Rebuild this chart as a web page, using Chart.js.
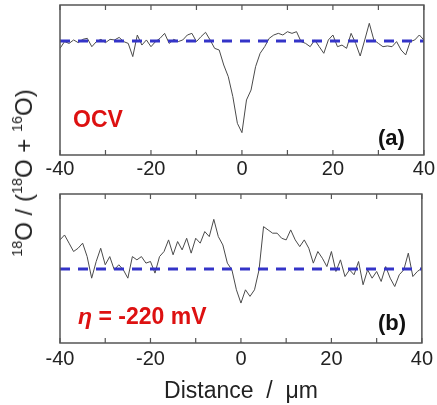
<!DOCTYPE html>
<html>
<head>
<meta charset="utf-8">
<script src="https://cdn.jsdelivr.net/npm/chart.js@4"></script>
<style>
  body { margin: 0; background: #fff; }
  #wrap { position: relative; width: 437px; height: 405px; font-family: 'Liberation Sans', Arial, sans-serif; }
  #wrap canvas { position: absolute; left: 0; }
  .lbl { position: absolute; white-space: nowrap; line-height: 1; }
  .red { color: #dd1111; font-weight: bold; font-size: 23px; }
  .tag { color: #111; font-weight: bold; font-size: 22px; }
  #ytitle { position: absolute; left: 24px; top: 173px; transform: translate(-50%, -50%) rotate(-90deg);
            font-size: 24px; color: #222; white-space: nowrap; }
  #ytitle sup { font-size: 0.6em; vertical-align: 0.7em; line-height: 0; }
</style>
</head>
<body>
<div id="wrap">
  <canvas id="chartA" width="437" height="185" style="top:0"></canvas>
  <canvas id="chartB" width="437" height="220" style="top:185px"></canvas>
  <div id="ytitle"><sup>18</sup>O / (<sup>18</sup>O + <sup>16</sup>O)</div>
  <div class="lbl red" style="left:73px; top:108px;">OCV</div>
  <div class="lbl tag" style="left:378px; top:127px;">(a)</div>
  <div class="lbl red" style="left:78px; top:305px;"><i>η</i> = -220 mV</div>
  <div class="lbl tag" style="left:378px; top:312px;">(b)</div>
</div>
<script>
// distance axis, 1 um steps from -40 to 40
const distance = [];
for (let d = -40; d <= 40; d++) distance.push(d);

// (a) OCV profile, arbitrary units
const ocvProfile = [
  0.711, 0.756, 0.744, 0.767, 0.749, 0.771, 0.778, 0.722, 0.756, 0.771,
  0.749, 0.771, 0.767, 0.784, 0.756, 0.744, 0.656, 0.800, 0.733, 0.767,
  0.722, 0.756, 0.778, 0.811, 0.744, 0.771, 0.756, 0.767, 0.800, 0.811,
  0.756, 0.789, 0.818, 0.767, 0.711, 0.700, 0.600, 0.522, 0.389, 0.211,
  0.149, 0.367, 0.433, 0.589, 0.678, 0.722, 0.778, 0.800, 0.811, 0.800,
  0.822, 0.811, 0.822, 0.756, 0.744, 0.722, 0.767, 0.722, 0.678, 0.767,
  0.800, 0.722, 0.733, 0.711, 0.811, 0.744, 0.660, 0.767, 0.878, 0.767,
  0.744, 0.722, 0.727, 0.722, 0.756, 0.700, 0.667, 0.756, 0.767, 0.800,
  0.767
];
const ocvBaseline = 0.76;

// (b) eta = -220 mV profile, arbitrary units
const biasProfile = [
  0.692, 0.725, 0.670, 0.614, 0.636, 0.670, 0.580, 0.435, 0.547, 0.636,
  0.525, 0.580, 0.491, 0.525, 0.491, 0.435, 0.580, 0.558, 0.580, 0.536,
  0.547, 0.469, 0.580, 0.614, 0.692, 0.592, 0.681, 0.625, 0.703, 0.603,
  0.703, 0.670, 0.748, 0.714, 0.830, 0.714, 0.658, 0.536, 0.491, 0.357,
  0.268, 0.357, 0.313, 0.357, 0.491, 0.781, 0.759, 0.737, 0.737, 0.703,
  0.692, 0.759, 0.692, 0.647, 0.692, 0.636, 0.536, 0.614, 0.569, 0.513,
  0.614, 0.480, 0.558, 0.446, 0.491, 0.458, 0.547, 0.391, 0.491, 0.435,
  0.480, 0.413, 0.513, 0.435, 0.379, 0.458, 0.491, 0.603, 0.446, 0.480,
  0.502
];
const biasBaseline = 0.496;

const xMin = -40, xMax = 40;
const fontFamily = "'Liberation Sans', Arial, sans-serif";

// box frame with inward ticks on top and bottom
const framePlugin = {
  id: 'frame',
  afterDraw(chart) {
    const { ctx, chartArea: a } = chart;
    const xs = chart.scales.x;
    ctx.save();
    ctx.strokeStyle = '#555';
    ctx.lineWidth = 1.5;
    ctx.strokeRect(a.left, a.top, a.right - a.left, a.bottom - a.top);
    ctx.lineWidth = 1.2;
    xs.ticks.forEach(t => {
      const px = xs.getPixelForValue(t.value);
      ctx.beginPath();
      ctx.moveTo(px, a.bottom); ctx.lineTo(px, a.bottom - 5);
      ctx.moveTo(px, a.top); ctx.lineTo(px, a.top + 5);
      ctx.stroke();
    });
    ctx.restore();
  }
};

function makePanel(id, values, baseline, opts) {
  const trace = distance.map((d, i) => ({ x: d, y: values[i] }));
  const xScale = {
    type: 'linear',
    min: xMin, max: xMax,
    grid: { display: false, drawTicks: false },
    border: { display: false },
    ticks: {
      stepSize: 10,
      autoSkip: false,
      maxRotation: 0,
      padding: opts.tickPad,
      color: '#222',
      font: { family: fontFamily, size: 20 },
      callback: v => (v % 20 === 0 ? String(v) : '')
    },
    afterFit: s => { s.height = opts.axisHeight; }
  };
  if (opts.title) {
    xScale.title = {
      display: true,
      text: opts.title,
      color: '#222',
      padding: { top: 0, bottom: 0 },
      font: { family: fontFamily, size: 23 }
    };
  }
  return new Chart(document.getElementById(id), {
    type: 'line',
    data: {
      datasets: [
        {
          data: [{ x: xMin, y: baseline }, { x: xMax, y: baseline }],
          borderColor: '#3434c8',
          borderWidth: 3,
          borderDash: [10, 8],
          pointRadius: 0,
          order: 0
        },
        {
          data: trace,
          borderColor: '#4a4a4a',
          borderWidth: 1,
          pointRadius: 0,
          tension: 0,
          order: 1
        }
      ]
    },
    options: {
      responsive: false,
      animation: false,
      layout: { padding: opts.padding },
      plugins: { legend: { display: false }, tooltip: { enabled: false } },
      scales: {
        x: xScale,
        y: { display: false, min: 0, max: 1 }
      }
    },
    plugins: [framePlugin]
  });
}

makePanel('chartA', ocvProfile, ocvBaseline, {
  padding: { left: 60, right: 10, top: 5, bottom: 0 },
  axisHeight: 30,
  tickPad: 2
});
makePanel('chartB', biasProfile, biasBaseline, {
  padding: { left: 60, right: 10, top: 9, bottom: 0 },
  axisHeight: 62,
  tickPad: 4,
  title: 'Distance  /  μm'
});
</script>
</body>
</html>
